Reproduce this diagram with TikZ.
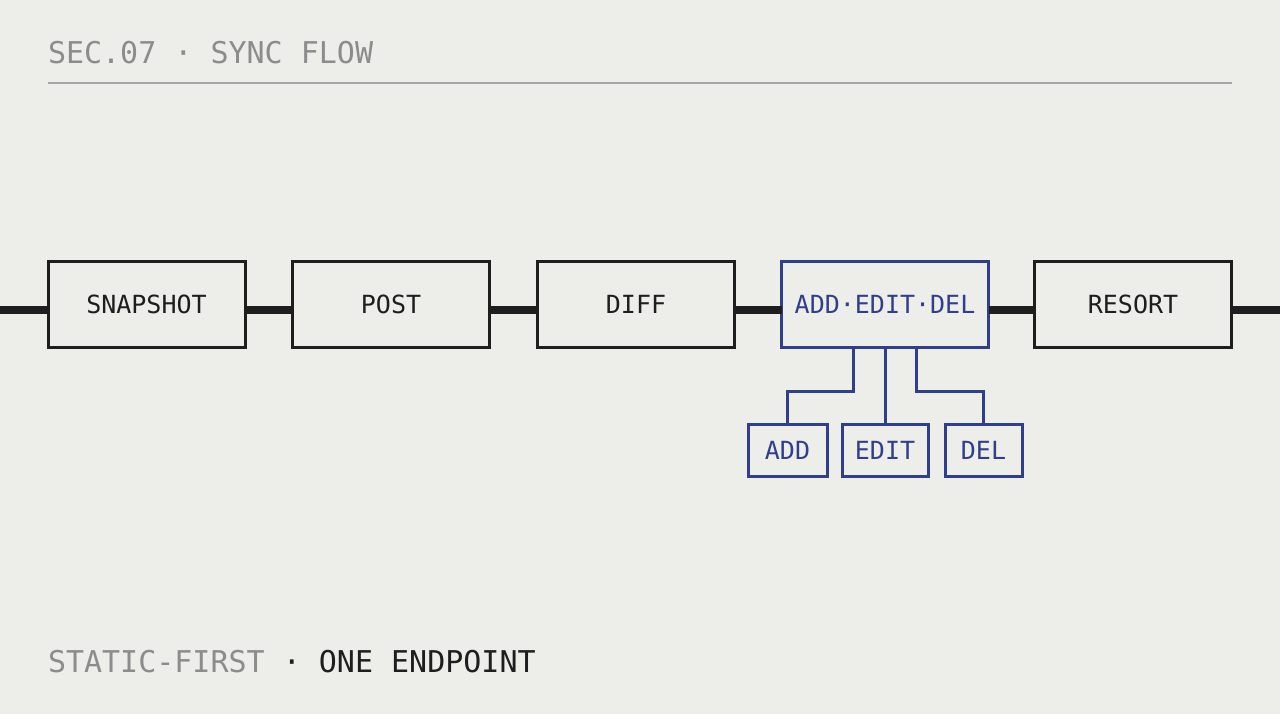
\documentclass[tikz,border=0pt]{standalone}
\usepackage{fontspec}
\setmonofont{DejaVu Sans Mono}
\begin{document}
\begin{tikzpicture}[x=1pt,y=-1pt,
  font=\ttfamily,
  every node/.style={inner sep=0pt, outer sep=0pt},
  mainbox/.style={draw=ink, line width=3pt, fill=bg, minimum width=197pt, minimum height=85pt, text=ink, font=\ttfamily\fontsize{25}{25}\selectfont},
  bluebox/.style={mainbox, draw=navy, line width=3pt, text=navy},
  subbox/.style={draw=navy, line width=3pt, fill=bg, minimum height=52pt, text=navy, font=\ttfamily\fontsize{25}{25}\selectfont},
  spine/.style={draw=ink, line width=8.5pt},
  branch/.style={draw=navy, line width=3pt},
]
\definecolor{bg}{HTML}{EDEDEA}
\definecolor{ink}{HTML}{1E1E1E}
\definecolor{navy}{HTML}{2F3F8C}
\definecolor{muted}{HTML}{8C8C8C}
\definecolor{rule}{HTML}{A6A6A6}
\fill[bg] (0,0) rectangle (1280,714);
\useasboundingbox (0,0) rectangle (1280,714);

% header
\node[anchor=base west, text=muted, font=\ttfamily\fontsize{30}{30}\selectfont] (title) at (48,64) {SEC.07 · SYNC FLOW};
\coordinate (ruleL) at (48,83);
\coordinate (ruleR) at (1232,83);
\draw[rule, line width=1.5pt] (ruleL) -- (ruleR);

% main flow
\coordinate (inL) at (0,310);
\coordinate (outR) at (1280,310);
\node[mainbox] (snap) at (146.5,304.5) {SNAPSHOT};
\node[mainbox] (post) at (391,304.5) {POST};
\node[mainbox] (diff) at (636,304.5) {DIFF};
\node[bluebox, minimum width=207pt] (ops) at (885,304.5) {ADD·EDIT·DEL};
\node[mainbox] (resort) at (1133,304.5) {RESORT};

\draw[spine] (inL) -- (inL -| snap.west);
\draw[spine] ([yshift=-5.5pt]snap.east) -- ([yshift=-5.5pt]post.west);
\draw[spine] ([yshift=-5.5pt]post.east) -- ([yshift=-5.5pt]diff.west);
\draw[spine] ([yshift=-5.5pt]diff.east) -- ([yshift=-5.5pt]ops.west);
\draw[spine] ([yshift=-5.5pt]ops.east) -- ([yshift=-5.5pt]resort.west);
\draw[spine] (outR -| resort.east) -- (outR);

% sub operations
\node[subbox, minimum width=79pt] (add) at (787.5,450.5) {ADD};
\node[subbox, minimum width=86pt] (edit) at (885,450.5) {EDIT};
\node[subbox, minimum width=77pt] (del) at (983.5,450.5) {DEL};

\draw[branch] ([xshift=-31.5pt]ops.south) -- ([xshift=-31.5pt]ops.south |- 0,391) -- (add.north |- 0,391) -- (add.north);
\draw[branch] (ops.south) -- (edit.north);
\draw[branch] ([xshift=31.5pt]ops.south) -- ([xshift=31.5pt]ops.south |- 0,391) -- (del.north |- 0,391) -- (del.north);

% footer
\node[anchor=base west, font=\ttfamily\fontsize{30}{30}\selectfont] (foot) at (48,672) {\textcolor{muted}{STATIC-FIRST}~\textcolor{ink}{·~ONE~ENDPOINT}};
\end{tikzpicture}
\end{document}
